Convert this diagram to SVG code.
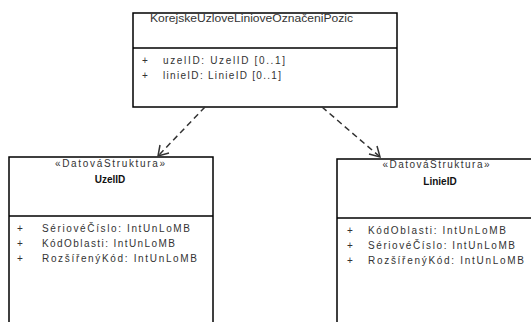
<svg xmlns="http://www.w3.org/2000/svg" width="531" height="322" viewBox="0 0 531 322">
<style>
.box{fill:#fff;stroke:#000;stroke-width:1.5}
.t{font-family:"Liberation Sans",Arial,sans-serif;font-size:10px;fill:#333}
.b{font-weight:bold;fill:#111}
.c{text-anchor:middle}
.conn{fill:none;stroke:#333;stroke-width:1.5;stroke-dasharray:6,4}
.head{fill:none;stroke:#333;stroke-width:1.5}
</style>
<rect width="531" height="322" fill="#fff"/>
<g id="node-top">
<rect class="box" x="133" y="13" width="264" height="94"/>
<line class="box" x1="133" y1="48" x2="397" y2="48"/>
<text class="t" x="150" y="22" textLength="203" lengthAdjust="spacingAndGlyphs">KorejskeUzloveLinioveOznačeniPozic</text>
<text class="t" x="142" y="64">+</text>
<text class="t" x="163" y="64" textLength="122" lengthAdjust="spacing">uzelID: UzelID  [0..1]</text>
<text class="t" x="142" y="79">+</text>
<text class="t" x="163" y="79" textLength="118" lengthAdjust="spacing">linieID: LinieID [0..1]</text>
</g>
<g id="node-uzel">
<rect class="box" x="9" y="157" width="204" height="180"/>
<line class="box" x1="9" y1="216" x2="213" y2="216"/>
<text class="t c" x="110" y="167" textLength="110" lengthAdjust="spacing">«DatováStruktura»</text>
<text class="t b c" x="110" y="183">UzelID</text>
<text class="t" x="17" y="232">+</text>
<text class="t" x="42" y="232" textLength="148" lengthAdjust="spacing">SériovéČíslo: IntUnLoMB</text>
<text class="t" x="17" y="247">+</text>
<text class="t" x="42" y="247" textLength="133" lengthAdjust="spacing">KódOblasti: IntUnLoMB</text>
<text class="t" x="17" y="262">+</text>
<text class="t" x="42" y="262" textLength="155" lengthAdjust="spacing">RozšířenýKód: IntUnLoMB</text>
</g>
<g id="node-linie">
<rect class="box" x="337" y="159" width="210" height="180"/>
<line class="box" x1="337" y1="218" x2="547" y2="218"/>
<text class="t c" x="436" y="168" textLength="107" lengthAdjust="spacing">«DatováStruktura»</text>
<text class="t b c" x="440" y="185">LinieID</text>
<text class="t" x="347" y="234">+</text>
<text class="t" x="368" y="234" textLength="138" lengthAdjust="spacing">KódOblasti: IntUnLoMB</text>
<text class="t" x="347" y="249">+</text>
<text class="t" x="368" y="249" textLength="147" lengthAdjust="spacing">SériovéČíslo: IntUnLoMB</text>
<text class="t" x="347" y="264">+</text>
<text class="t" x="368" y="264" textLength="156" lengthAdjust="spacing">RozšířenýKód: IntUnLoMB</text>
</g>
<g id="connectors">
<line class="conn" x1="205" y1="107" x2="159" y2="155"/>
<polyline class="head" points="160,145 158,156 169,153"/>
<line class="conn" x1="322" y1="107" x2="379" y2="156"/>
<polyline class="head" points="369,154 380,157 377,146"/>
</g>
</svg>
